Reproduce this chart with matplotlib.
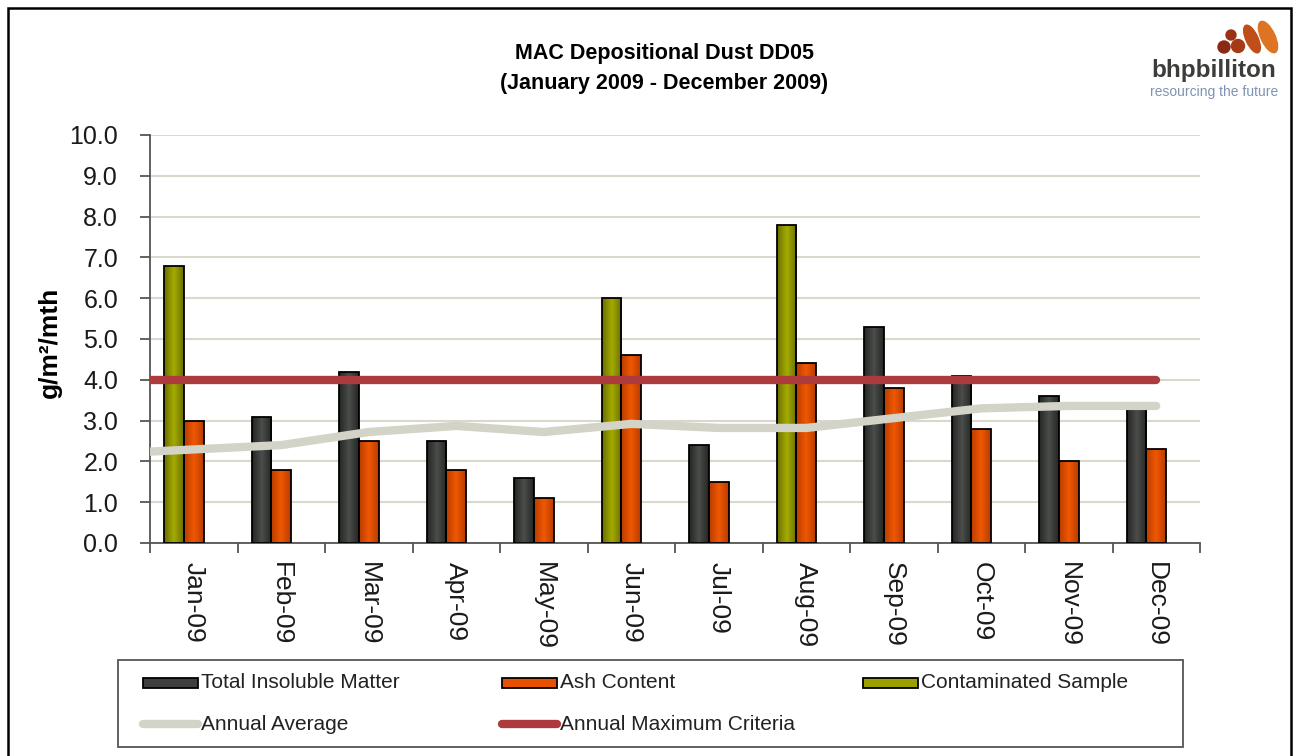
import numpy as np
import matplotlib
matplotlib.use("Agg")
import matplotlib.pyplot as plt
from matplotlib.patches import Rectangle, Ellipse, Circle
from matplotlib.lines import Line2D
from matplotlib.colors import LinearSegmentedColormap

plt.rcParams['font.family'] = ['Liberation Sans', 'DejaVu Sans']

# data
months = ['Jan-09', 'Feb-09', 'Mar-09', 'Apr-09', 'May-09', 'Jun-09',
          'Jul-09', 'Aug-09', 'Sep-09', 'Oct-09', 'Nov-09', 'Dec-09']
total_insoluble = [np.nan, 3.1, 4.2, 2.5, 1.6, np.nan, 2.4, np.nan, 5.3, 4.1, 3.6, 3.3]
contaminated = [6.8, np.nan, np.nan, np.nan, np.nan, 6.0, np.nan, 7.8, np.nan, np.nan, np.nan, np.nan]
ash_content = [3.0, 1.8, 2.5, 1.8, 1.1, 4.6, 1.5, 4.4, 3.8, 2.8, 2.0, 2.3]
annual_average = [2.24, 2.4, 2.72, 2.87, 2.72, 2.92, 2.82, 2.82, 3.06, 3.3, 3.36, 3.36]
annual_max = [4.0] * 12

W, H = 1296, 756
fig = plt.figure(figsize=(W / 100, H / 100), dpi=100)
fig.patch.set_facecolor('white')


def px(x, y):
    # pixel position -> figure fraction
    return x / W, 1 - y / H


ax = fig.add_axes([150 / W, 1 - 543 / H, 1050 / W, 408 / H])

x = np.arange(len(months))
bw = 0.225

cmaps = {
    'dark': LinearSegmentedColormap.from_list('d', ['#242624', '#4b4e4b', '#242624']),
    'orange': LinearSegmentedColormap.from_list('o', ['#b83c00', '#f05800', '#b83c00']),
    'green': LinearSegmentedColormap.from_list('g', ['#6a6e00', '#a4ac00', '#6a6e00']),
}


def gradient_bars(xpos, vals, cmap):
    bars = ax.bar(xpos, vals, bw, facecolor='none', edgecolor='black',
                  linewidth=1.3, zorder=3)
    grad = np.linspace(0, 1, 64).reshape(1, -1)
    for b in bars:
        h = b.get_height()
        if not np.isfinite(h):
            continue
        x0 = b.get_x()
        im = ax.imshow(grad, extent=[x0, x0 + b.get_width(), 0, h], aspect='auto',
                       cmap=cmap, zorder=2.5, interpolation='bilinear')
        im.set_clip_path(b)
    return bars


gradient_bars(x - bw, total_insoluble, cmaps['dark'])
gradient_bars(x - bw, contaminated, cmaps['green'])
gradient_bars(x, ash_content, cmaps['orange'])

# lines start at the left axis edge and end at the last month
line_x = x.astype(float)
line_x[0] = -0.5
ax.plot(line_x, annual_average, color='#d3d3c7', lw=6, solid_capstyle='round', zorder=4)
ax.plot(line_x, annual_max, color='#ad3a3d', lw=6, solid_capstyle='round', zorder=5)

ax.set_xlim(-0.5, len(months) - 0.5)
ax.set_ylim(0, 10)
ax.set_yticks(np.arange(0, 10.01, 1.0))
ax.set_yticklabels([f'{v:.1f}' for v in np.arange(0, 10.01, 1.0)], fontsize=18, color='#1a1a1a')
ax.set_xticks(x)
ax.set_xticklabels(months, rotation=270, fontsize=19, color='#1a1a1a', va='top', ha='center')
ax.set_xticks(np.arange(-0.5, len(months)), minor=True)
ax.tick_params(axis='x', which='major', length=0, pad=14)
ax.tick_params(axis='x', which='minor', length=7, width=1.3, color='#555555', direction='out')
ax.tick_params(axis='y', length=7, width=1.3, color='#555555', direction='out', pad=16)
ax.grid(axis='y', color='#d8d8cc', lw=1.5, zorder=0)
ax.set_axisbelow(True)
for s in ['top', 'right']:
    ax.spines[s].set_visible(False)
for s in ['left', 'bottom']:
    ax.spines[s].set_color('#555555')
    ax.spines[s].set_linewidth(1.3)

fig.text(50 / W, 1 - 342 / H, 'g/m²/mth', rotation=90, fontsize=19, fontweight='bold',
         ha='center', va='center')

# title
fig.text(664 / W, 1 - 53 / H, 'MAC Depositional Dust DD05', fontsize=15.5,
         fontweight='bold', ha='center', va='center')
fig.text(664 / W, 1 - 83 / H, '(January 2009 - December 2009)', fontsize=15.5,
         fontweight='bold', ha='center', va='center')

# legend box drawn by hand
fig.add_artist(Rectangle(px(118, 747), 1065 / W, 87 / H, transform=fig.transFigure,
                         facecolor='white', edgecolor='#555555', lw=1.3))
legend_items = [
    ('bar', '#3c3f3c', 'Total Insoluble Matter', 143, 683),
    ('bar', '#e65000', 'Ash Content', 502, 683),
    ('bar', '#9aa000', 'Contaminated Sample', 863, 683),
    ('line', '#d3d3c7', 'Annual Average', 143, 724),
    ('line', '#ad3a3d', 'Annual Maximum Criteria', 502, 724),
]
for kind, col, label, lx, ly in legend_items:
    if kind == 'bar':
        fig.add_artist(Rectangle(px(lx, ly + 5), 55 / W, 10 / H, transform=fig.transFigure,
                                 facecolor=col, edgecolor='black', lw=1.3))
    else:
        x0, y0 = px(lx, ly)
        x1, _ = px(lx + 55, ly)
        fig.add_artist(Line2D([x0, x1], [y0, y0], transform=fig.transFigure,
                              color=col, lw=6, solid_capstyle='round'))
    tx, ty = px(lx + 58, ly)
    fig.text(tx, ty, label, fontsize=15, ha='left', va='center', color='#222222')

# logo
lax = fig.add_axes([1140 / W, 1 - 100 / H, 150 / W, 80 / H])
lax.set_xlim(1140, 1290)
lax.set_ylim(100, 20)
lax.axis('off')
lax.add_patch(Circle((1224, 47), 6, color='#8a2a12'))
lax.add_patch(Circle((1231, 35), 5, color='#9a3214'))
lax.add_patch(Circle((1238, 46), 6.5, color='#a63a16'))
lax.add_patch(Ellipse((1252, 39), 12, 30, angle=-25, color='#c04e18'))
lax.add_patch(Ellipse((1268, 37), 14, 34, angle=-25, color='#dc7424'))
lax.text(1214, 70, 'bhpbilliton', fontsize=17.5, color='#3c3c3a', ha='center', va='center',
         fontweight='bold')
lax.text(1214, 92, 'resourcing the future', fontsize=10, color='#7f92b4',
         ha='center', va='center')

# outer border
fig.add_artist(Rectangle(px(8, 760), 1283 / W, 752 / H, transform=fig.transFigure,
                         facecolor='none', edgecolor='black', lw=1.8))

fig.savefig('out.png', dpi=100)
